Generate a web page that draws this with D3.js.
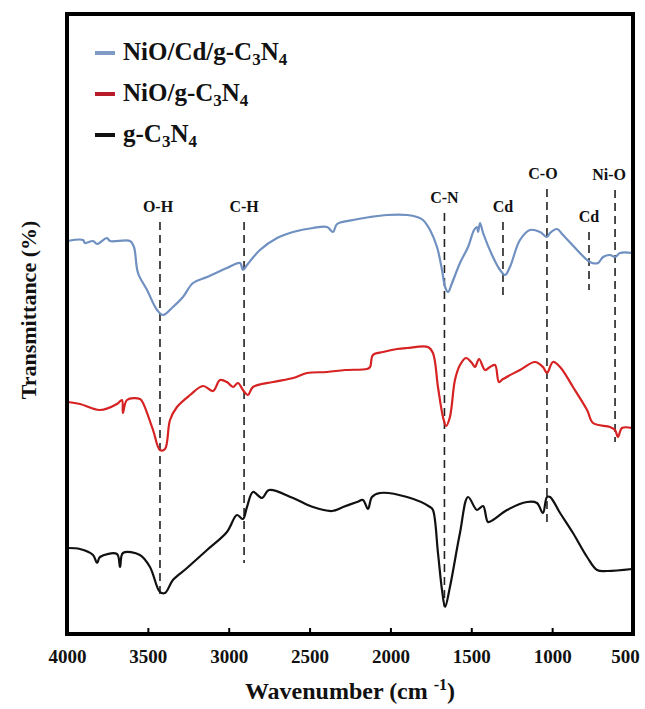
<!DOCTYPE html>
<html>
<head>
<meta charset="utf-8">
<script src="https://cdn.jsdelivr.net/npm/d3@7"></script>
<style>
  body { margin: 0; background: #fff; }
</style>
</head>
<body>
<svg></svg>
<script>
// FTIR spectra, [wavenumber (cm-1), transmittance (a.u.)]
let nioCdGcn = [
  [3994, 393], [3901, 394], [3889, 391], [3839, 393], [3814, 390], [3753, 396], [3734, 393],
  [3610, 393], [3586, 387], [3561, 361], [3505, 344], [3443, 324], [3406, 319], [3345, 327],
  [3283, 337], [3221, 351], [3134, 357], [3011, 366], [2930, 371], [2912, 364], [2887, 369],
  [2807, 384], [2701, 396], [2602, 402], [2479, 406], [2392, 407], [2355, 402], [2330, 410],
  [2231, 414], [2126, 417], [2021, 419], [1897, 419], [1835, 417], [1799, 414], [1755, 404],
  [1712, 387], [1681, 364], [1662, 347], [1644, 342], [1619, 351], [1570, 371], [1520, 387],
  [1483, 404], [1465, 407], [1458, 402], [1446, 411], [1427, 401], [1366, 377], [1322, 364],
  [1291, 359], [1261, 367], [1199, 394], [1137, 404], [1075, 402], [1032, 397], [1013, 401],
  [970, 405], [933, 399], [846, 384], [784, 374], [753, 371], [716, 371], [685, 377],
  [642, 379], [611, 377], [580, 381], [505, 381]
];

let nioGcn = [
  [3994, 232], [3920, 230], [3796, 224], [3691, 230], [3660, 234], [3654, 221], [3629, 234],
  [3549, 235], [3530, 231], [3468, 204], [3425, 184], [3394, 185], [3363, 214], [3320, 227],
  [3239, 239], [3159, 248], [3097, 243], [3054, 254], [3011, 252], [2973, 247], [2943, 251],
  [2912, 244], [2881, 239], [2850, 247], [2726, 252], [2602, 256], [2516, 261], [2392, 262],
  [2281, 264], [2145, 265], [2126, 267], [2108, 279], [2046, 282], [1959, 285], [1897, 286],
  [1768, 287], [1737, 281], [1706, 247], [1675, 217], [1656, 208], [1632, 217], [1601, 254],
  [1570, 269], [1533, 276], [1496, 271], [1477, 267], [1452, 275], [1415, 264], [1384, 267],
  [1353, 269], [1329, 252], [1304, 255], [1199, 264], [1106, 272], [1057, 267], [1032, 261],
  [995, 272], [951, 267], [871, 247], [784, 224], [747, 211], [642, 207], [611, 204],
  [593, 197], [568, 206], [505, 206]
];

let gcn = [
  [3994, 86], [3920, 85], [3839, 79], [3814, 71], [3796, 77], [3691, 80], [3672, 67],
  [3654, 81], [3549, 79], [3487, 67], [3425, 42], [3394, 41], [3345, 54], [3258, 66],
  [3134, 84], [3011, 102], [2949, 119], [2912, 115], [2887, 127], [2850, 142], [2794, 136],
  [2751, 144], [2602, 136], [2479, 127], [2361, 123], [2293, 127], [2207, 132], [2170, 134],
  [2139, 125], [2114, 137], [2064, 141], [1897, 137], [1755, 127], [1737, 124], [1706, 81],
  [1681, 44], [1662, 27], [1632, 47], [1570, 101], [1520, 137], [1465, 124], [1427, 128],
  [1397, 112], [1366, 114], [1279, 124], [1155, 132], [1094, 131], [1057, 121], [1032, 137],
  [1013, 137], [951, 121], [871, 101], [784, 77], [722, 64], [660, 63], [505, 65]
];

let seriesNames = ['NiO/Cd/g-C3N4', 'NiO/g-C3N4', 'g-C3N4'];
let seriesData = [nioCdGcn, nioGcn, gcn];
let seriesColors = ['#6f90c0', '#d62222', '#111111'];
let legendColors = ['#7f9cc6', '#b81c2a', '#111111'];

// band assignments: wavenumber, label, dashed line top / bottom (a.u.)
let bandWave = [3425, 2905, 1666, 1304, 1032, 772, 611];
let bandLabels = ['O-H', 'C-H', 'C-N', 'Cd', 'C-O', 'Cd', 'Ni-O'];
let bandTop = [412, 412, 421, 412, 445, 402, 444];
let bandBottom = [36, 71, 27, 334, 111, 344, 192];

let xTicks = [4000, 3500, 3000, 2500, 2000, 1500, 1000, 500];

let width = 645;
let height = 709;
let margin = { top: 14, right: 12, bottom: 75, left: 67 };
let serif = '"Times New Roman", "Liberation Serif", "DejaVu Serif", serif';

let svg = d3.select('svg')
  .attr('width', width)
  .attr('height', height)
  .attr('font-family', serif)
  .attr('font-weight', 'bold');

let xScale = d3.scaleLinear()
  .domain([4000, 500])
  .range([margin.left, width - margin.right]);

let yScale = d3.scaleLinear()
  .domain([0, 620])
  .range([height - margin.bottom, margin.top]);

// subscript digits in chemical formulas
let addFormula = (sel, label, size) => {
  let shift = 0;
  label.split(/(\d)/).forEach((part) => {
    if (part === '') return;
    let sub = /\d/.test(part);
    let target = sub ? 5 : 0;
    let ts = sel.append('tspan').attr('dy', target - shift).text(part);
    if (sub) ts.attr('font-size', Math.round(size * 0.68));
    shift = target;
  });
};

let drawMarkers = () => {
  let g = svg.append('g');
  bandWave.forEach((w, i) => {
    g.append('line')
      .attr('x1', xScale(w)).attr('x2', xScale(w))
      .attr('y1', yScale(bandTop[i])).attr('y2', yScale(bandBottom[i]))
      .attr('stroke', '#222')
      .attr('stroke-width', 1.6)
      .attr('stroke-dasharray', '8,5');
    let dx = 0;
    if (bandLabels[i] === 'Ni-O') dx = -6;
    if (bandLabels[i] === 'C-O') dx = -4;
    if (bandLabels[i] === 'O-H') dx = -2;
    g.append('text')
      .attr('x', xScale(w) + dx)
      .attr('y', yScale(bandTop[i]) - 10)
      .attr('text-anchor', 'middle')
      .attr('font-size', 16)
      .attr('fill', '#111')
      .text(bandLabels[i]);
  });
};

let drawLines = () => {
  let line = d3.line()
    .x((d) => xScale(d[0]))
    .y((d) => yScale(d[1]))
    .curve(d3.curveCatmullRom.alpha(0.5));

  svg.selectAll('path.spectrum')
    .data(seriesData)
    .enter()
    .append('path')
    .attr('class', 'spectrum')
    .attr('d', line)
    .attr('fill', 'none')
    .attr('stroke', (d, i) => seriesColors[i])
    .attr('stroke-width', 2.2)
    .attr('stroke-linejoin', 'round');
};

let drawAxes = () => {
  let xAxis = d3.axisBottom(xScale)
    .tickValues(xTicks)
    .tickFormat(d3.format('d'))
    .tickSizeInner(-6)
    .tickSizeOuter(0)
    .tickPadding(16);

  let gx = svg.append('g')
    .attr('transform', `translate(0, ${height - margin.bottom})`)
    .call(xAxis)
    .attr('font-family', serif)
    .attr('font-size', 19);
  gx.select('.domain').remove();
  gx.selectAll('.tick line').attr('stroke', '#000').attr('stroke-width', 2);
  gx.selectAll('.tick text')
    .attr('fill', '#111')
    .attr('dx', (d) => (d === 500 ? -8 : 0));

  // frame
  svg.append('rect')
    .attr('x', margin.left)
    .attr('y', margin.top)
    .attr('width', width - margin.left - margin.right)
    .attr('height', height - margin.top - margin.bottom)
    .attr('fill', 'none')
    .attr('stroke', '#000')
    .attr('stroke-width', 4);

  let xLabel = svg.append('text')
    .attr('x', (margin.left + width - margin.right) / 2)
    .attr('y', 699)
    .attr('text-anchor', 'middle')
    .attr('font-size', 24)
    .attr('fill', '#111');
  xLabel.append('tspan').text('Wavenumber (cm ');
  xLabel.append('tspan').attr('font-size', 16).attr('dy', -9).text('-1');
  xLabel.append('tspan').attr('dy', 9).text(')');

  svg.append('text')
    .attr('transform', 'translate(36, 310) rotate(-90)')
    .attr('text-anchor', 'middle')
    .attr('font-size', 22)
    .attr('fill', '#111')
    .text('Transmittance (%)');
};

let drawLegend = () => {
  let rows = [53, 94, 135];
  seriesNames.forEach((name, i) => {
    svg.append('line')
      .attr('x1', 95).attr('x2', 115)
      .attr('y1', rows[i]).attr('y2', rows[i])
      .attr('stroke', legendColors[i])
      .attr('stroke-width', 4);
    let t = svg.append('text')
      .attr('x', 123)
      .attr('y', rows[i] + 7)
      .attr('font-size', 25)
      .attr('fill', '#111');
    addFormula(t, name, 25);
  });
};

drawMarkers();
drawLines();
drawAxes();
drawLegend();
</script>
</body>
</html>
